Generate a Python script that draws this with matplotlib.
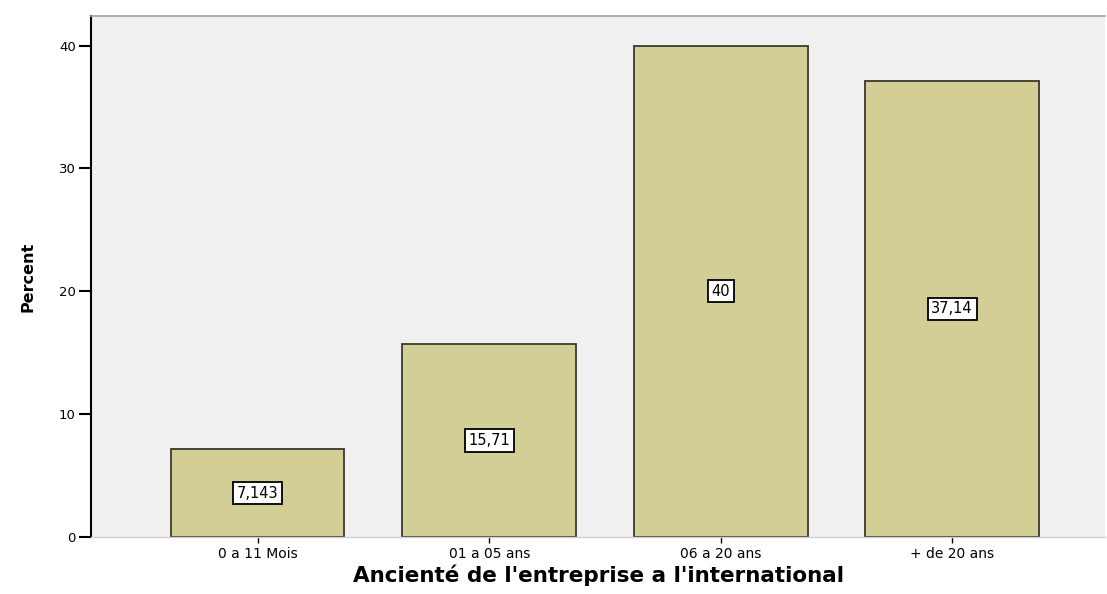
import matplotlib
matplotlib.use("Agg")
import matplotlib.pyplot as plt

categories = ["0 a 11 Mois", "01 a 05 ans", "06 a 20 ans", "+ de 20 ans"]
percent = [7.143, 15.71, 40, 37.14]
bar_labels = ["7,143", "15,71", "40", "37,14"]
yticks = [0, 10, 20, 30, 40]

fig = plt.figure(figsize=(11.07, 5.94), dpi=100)
ax = fig.add_axes([0.0822, 0.096, 0.916, 0.877])
ax.set_facecolor("#f0f0f0")

x = list(range(len(categories)))
ax.bar(x, percent, width=0.75, color="#d3ce96", edgecolor="#3a3a30", linewidth=1.3, zorder=2)

for xi, v, lab in zip(x, percent, bar_labels):
    ax.text(xi, v / 2, lab, ha="center", va="center", fontsize=10.5, color="black", zorder=3,
            bbox=dict(boxstyle="square,pad=0.25", facecolor="white", edgecolor="black", linewidth=1.3))

ax.set_xlim(-0.72, 3.66)
ax.set_ylim(0, 42.4)
ax.set_yticks(yticks)
ax.set_yticklabels([str(t) for t in yticks], fontsize=9.5)
ax.set_xticks(x)
ax.set_xticklabels(categories, fontsize=10)
ax.tick_params(axis="y", direction="out", length=9, width=1.5, color="black", pad=2)
ax.tick_params(axis="x", direction="out", length=4, width=1, color="black", pad=3)

ax.spines["right"].set_visible(False)
ax.spines["left"].set_color("black")
ax.spines["left"].set_linewidth(1.5)
ax.spines["top"].set_color("#a0a0a0")
ax.spines["top"].set_linewidth(1.2)
ax.spines["bottom"].set_color("#d0d0d0")
ax.spines["bottom"].set_linewidth(1)

ax.set_ylabel("Percent", fontsize=11.5, fontweight="bold", labelpad=17)
ax.set_xlabel("Ancienté de l'entreprise a l'international", fontsize=15.5, fontweight="bold", labelpad=3)

fig.savefig("out.png", dpi=100, facecolor="white")
